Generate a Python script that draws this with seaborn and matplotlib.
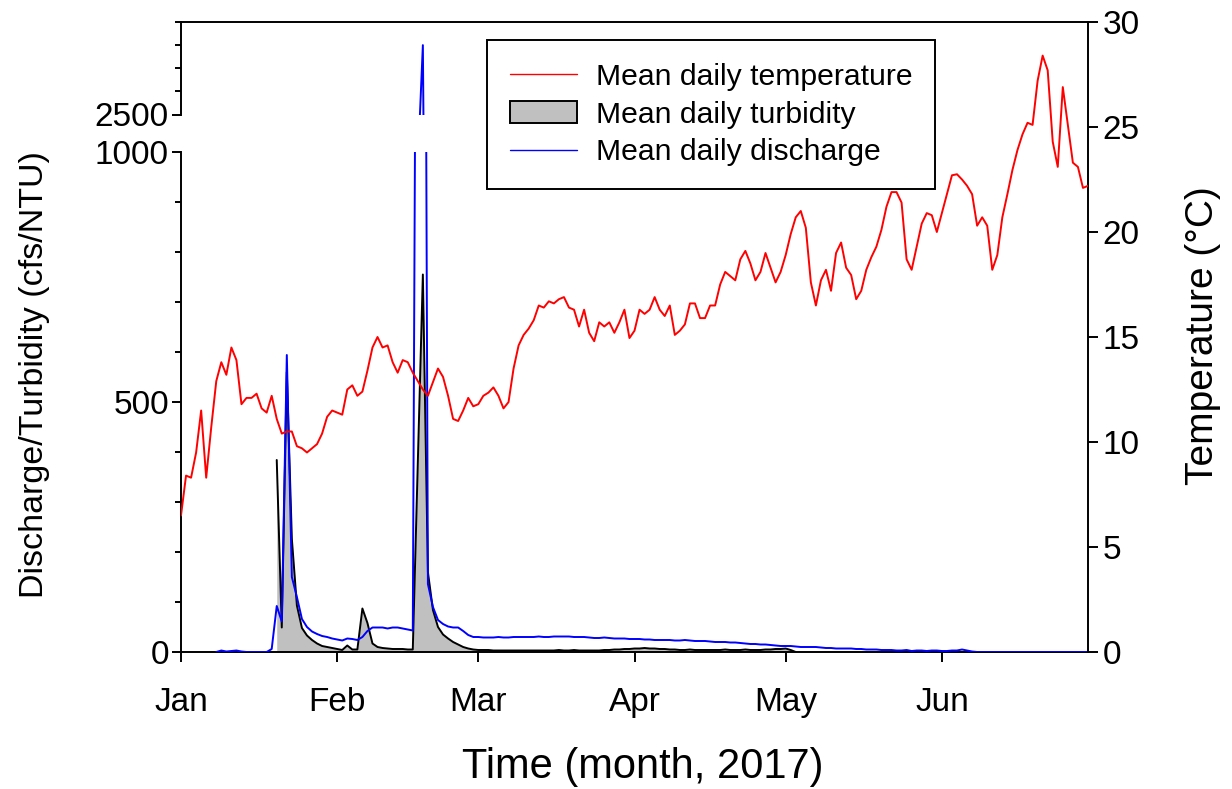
import numpy as np
import pandas as pd
import matplotlib
matplotlib.use("Agg")
import matplotlib.pyplot as plt
import matplotlib.dates as mdates
from matplotlib.lines import Line2D
from matplotlib.patches import Patch
import seaborn as sns

sns.set_style("ticks")
plt.rcParams["font.family"] = ["Liberation Sans", "DejaVu Sans"]
plt.rcParams.update({
    "text.color": "black", "axes.labelcolor": "black", "axes.edgecolor": "black",
    "xtick.color": "black", "ytick.color": "black",
})

# ---------------- data ----------------
dates = pd.date_range("2017-01-01", "2017-06-30", freq="D")

temperature = [
    6.5, 8.4, 8.3, 9.5, 11.5, 8.3, 10.7, 12.9, 13.8, 13.2,
    14.5, 13.9, 11.8, 12.1, 12.1, 12.3, 11.6, 11.4, 12.2, 11.1,
    10.4, 10.5, 10.5, 9.8, 9.7, 9.5, 9.7, 9.9, 10.4, 11.2,
    11.5, 11.4, 11.3, 12.5, 12.7, 12.2, 12.4, 13.4, 14.5, 15.0,
    14.5, 14.6, 13.8, 13.3, 13.9, 13.8, 13.3, 12.9, 12.5, 12.2,
    12.85, 13.5, 13.1, 12.2, 11.1, 11.0, 11.5, 12.1, 11.7, 11.8,
    12.2, 12.35, 12.6, 12.2, 11.6, 11.9, 13.5, 14.6, 15.1, 15.4,
    15.8, 16.5, 16.4, 16.7, 16.6, 16.8, 16.9, 16.4, 16.3, 15.5,
    16.3, 15.2, 14.8, 15.7, 15.5, 15.7, 15.2, 15.7, 16.3, 14.95,
    15.3, 16.3, 16.1, 16.3, 16.9, 16.3, 16.0, 16.5, 15.1, 15.3,
    15.6, 16.6, 16.6, 15.9, 15.9, 16.5, 16.5, 17.5, 18.1, 17.9,
    17.7, 18.7, 19.1, 18.5, 17.7, 18.1, 19.0, 18.3, 17.6, 18.1,
    18.9, 19.9, 20.7, 21.0, 20.2, 17.6, 16.5, 17.7, 18.2, 17.2,
    19.0, 19.5, 18.3, 17.95, 16.8, 17.2, 18.2, 18.8, 19.3, 20.1,
    21.2, 21.9, 21.9, 21.4, 18.7, 18.2, 19.3, 20.4, 20.9, 20.8,
    20.0, 20.9, 21.8, 22.7, 22.75, 22.5, 22.2, 21.8, 20.3, 20.7,
    20.3, 18.2, 18.9, 20.7, 21.8, 22.95, 23.9, 24.65, 25.2, 25.1,
    27.2, 28.4, 27.7, 24.3, 23.1, 26.9, 25.1, 23.3, 23.1, 22.1,
    22.2,
]

# turbidity (NTU), recorded from 20 Jan to 3 May
turbidity_start = "2017-01-20"
turbidity = [
    384, 49, 560, 226, 93, 48, 33, 24, 17, 12,
    10, 8, 6, 4, 13, 5, 5, 87, 58, 17,
    10, 8, 7, 6, 6, 6, 5, 5, 380, 755,
    160, 84, 50, 35, 27, 20, 15, 10, 7, 5,
    4, 4, 4, 3, 3, 3, 3, 3, 3, 3,
    3, 3, 3, 3, 3, 3, 4, 3, 3, 4,
    3, 3, 3, 3, 3, 4, 4, 5, 5, 6,
    6, 7, 7, 8, 7, 7, 6, 6, 5, 5,
    4, 4, 5, 4, 4, 4, 4, 4, 4, 5,
    4, 4, 4, 5, 4, 4, 4, 5, 5, 6,
    6, 7, 4, 0,
]

# discharge (cfs), recorded from 8 Jan
discharge_start = "2017-01-08"
discharge = [
    0, 3, 1, 2, 3, 1, 0, 0, 0, 0,
    0, 6, 92, 61, 594, 150, 110, 66, 50, 41,
    36, 32, 30, 27, 25, 23, 27, 26, 24, 30,
    42, 49, 49, 49, 47, 49, 49, 47, 45, 43,
    2285, 2800, 136, 90, 64, 56, 51, 49, 49, 42,
    34, 30, 30, 29, 29, 29, 30, 29, 29, 30,
    30, 30, 30, 30, 31, 30, 30, 31, 31, 31,
    31, 30, 30, 30, 29, 28, 28, 29, 28, 27,
    27, 27, 26, 26, 26, 25, 25, 24, 24, 24,
    24, 23, 23, 24, 23, 22, 22, 22, 21, 20,
    20, 20, 19, 19, 18, 17, 16, 16, 15, 15,
    14, 13, 12, 12, 12, 11, 10, 10, 10, 10,
    9, 8, 8, 7, 7, 7, 7, 6, 6, 5,
    5, 5, 4, 4, 4, 3, 3, 4, 2, 3,
    3, 2, 3, 3, 2, 2, 3, 3, 5, 3,
    1, 0, 0, 0, 0, 0, 0, 0, 0, 0,
    0, 0, 0, 0, 0, 0, 0, 0, 0, 0,
    0, 0, 0, 0,
]

month_labels = ["Jan", "Feb", "Mar", "Apr", "May", "Jun"]

temp_df = pd.DataFrame({"date": dates, "value": temperature})
turb_df = pd.DataFrame({"date": pd.date_range(turbidity_start, periods=len(turbidity), freq="D"),
                        "value": turbidity})
dis_df = pd.DataFrame({"date": pd.date_range(discharge_start, periods=len(discharge), freq="D"),
                       "value": discharge})

# ---------------- figure ----------------
W, H = 1232, 789
fig = plt.figure(figsize=(W / 100, H / 100), dpi=100)
L, R = 181 / W, 1088 / W
ax_lo = fig.add_axes([L, (H - 652) / H, R - L, 500 / H])
ax_hi = fig.add_axes([L, (H - 114.5) / H, R - L, 92.5 / H], sharex=ax_lo)
ax_t = fig.add_axes([L, (H - 652) / H, R - L, 630 / H], sharex=ax_lo)
ax_t.patch.set_alpha(0)

LW = 1.4
for ax in (ax_lo, ax_hi):
    ax.fill_between(turb_df["date"], turb_df["value"], 0, color="#c0c0c0", lw=0, zorder=1)
    sns.lineplot(data=turb_df, x="date", y="value", ax=ax, color="black", lw=LW,
                 estimator=None, legend=False, zorder=2)
    sns.lineplot(data=dis_df, x="date", y="value", ax=ax, color="#0000ff", lw=LW,
                 estimator=None, legend=False, zorder=3)
    ax.set_xlabel("")
    ax.set_ylabel("")

sns.lineplot(data=temp_df, x="date", y="value", ax=ax_t, color="#ff0000", lw=LW,
             estimator=None, legend=False, zorder=4)
ax_t.set_xlabel("")
ax_t.set_ylabel("")

ax_lo.set_xlim(dates[0], dates[-1])
ax_lo.set_ylim(0, 1000)
ax_hi.set_ylim(2500, 2900)
ax_t.set_ylim(0, 30)

SW = 1.4
# lower panel
ax_lo.set_yticks([0, 500, 1000])
ax_lo.set_yticks(np.arange(0, 1001, 100), minor=True)
for s in ("top", "right"):
    ax_lo.spines[s].set_visible(False)
for s in ("left", "bottom"):
    ax_lo.spines[s].set_linewidth(SW)
month_starts = pd.date_range("2017-01-01", periods=len(month_labels), freq="MS")
ax_lo.set_xticks(month_starts)
ax_lo.set_xticklabels(month_labels)
ax_lo.tick_params(axis="y", which="major", length=6.7, width=SW, labelsize=24, pad=2)
ax_lo.tick_params(axis="y", which="minor", length=4.3, width=SW)
ax_lo.tick_params(axis="x", which="major", length=7.5, width=SW, labelsize=24, pad=18)

# upper panel
ax_hi.set_yticks([2500])
ax_hi.set_yticks([2600, 2700, 2800, 2900], minor=True)
for s in ("bottom", "right"):
    ax_hi.spines[s].set_visible(False)
for s in ("left", "top"):
    ax_hi.spines[s].set_linewidth(SW)
ax_hi.tick_params(axis="x", which="both", bottom=False, labelbottom=False)
ax_hi.tick_params(axis="y", which="major", length=6.7, width=SW, labelsize=24, pad=2)
ax_hi.tick_params(axis="y", which="minor", length=4.3, width=SW)

# temperature axis
for s in ("left", "top", "bottom"):
    ax_t.spines[s].set_visible(False)
ax_t.spines["right"].set_linewidth(SW)
ax_t.yaxis.tick_right()
ax_t.set_yticks(np.arange(0, 31, 5))
ax_t.tick_params(axis="y", which="major", length=7.5, width=SW, labelsize=24, pad=3)
ax_t.tick_params(axis="x", which="both", bottom=False, labelbottom=False)

# axis titles
fig.text(35 / W, 1 - 375 / H, "Discharge/Turbidity (cfs/NTU)", rotation=90,
         ha="center", va="center", fontsize=24.5)
fig.text(1203 / W, 1 - 336 / H, "Temperature (°C)", rotation=90,
         ha="center", va="center", fontsize=28)
fig.text(643 / W, 1 - 767 / H, "Time (month, 2017)", ha="center", va="center", fontsize=30)

# legend
handles = [
    Line2D([], [], color="#ff0000", lw=1.0),
    Patch(facecolor="#c0c0c0", edgecolor="black", lw=1.4),
    Line2D([], [], color="#0000ff", lw=1.0),
]
labels = ["Mean daily temperature", "Mean daily turbidity", "Mean daily discharge"]
leg = fig.legend(handles, labels, loc="upper left", bbox_to_anchor=(487 / W, 1 - 40 / H),
                 fontsize=21.7, frameon=True, fancybox=False, edgecolor="black",
                 handlelength=2.25, handletextpad=0.6, labelspacing=0.33,
                 borderpad=0.75, borderaxespad=0)
leg.get_frame().set_linewidth(1.4)
leg.get_frame().set_alpha(1)

fig.savefig("out.png", dpi=100)
